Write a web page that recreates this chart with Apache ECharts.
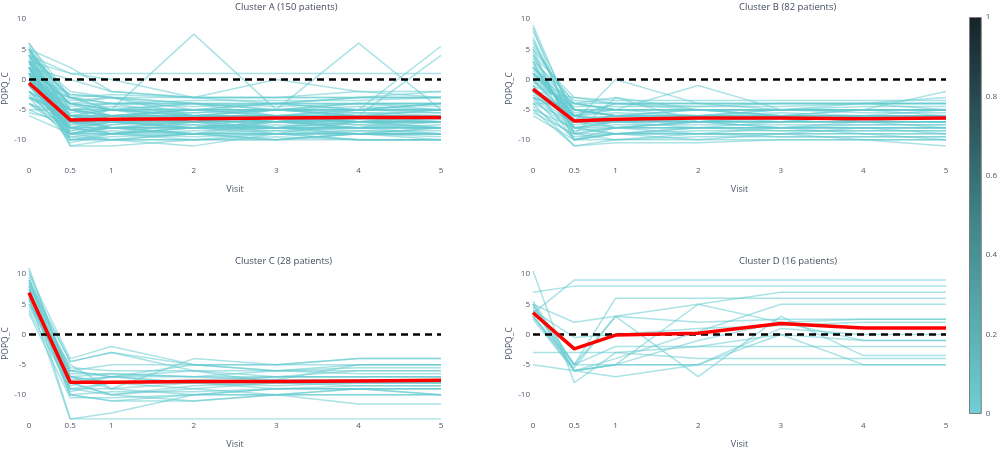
<!DOCTYPE html>
<html>
<head>
<meta charset="utf-8">
<script src="https://cdn.jsdelivr.net/npm/echarts@6/dist/echarts.min.js"></script>
<style>
html,body{margin:0;padding:0;background:#fff;}
#chart{width:1000px;height:451px;}
</style>
</head>
<body>
<div id="chart"></div>
<script>
const visits = [0, 0.5, 1, 2, 3, 4, 5];
const xTicks = [0, 0.5, 1, 2, 3, 4, 5];
const yTicks = [-10, -5, 0, 5, 10];
const titles = ["Cluster A (150 patients)", "Cluster B (82 patients)", "Cluster C (28 patients)", "Cluster D (16 patients)"];
const cbTicks = [0, 0.2, 0.4, 0.6, 0.8, 1];

const meanA = [-0.6, -6.7, -6.6, -6.5, -6.4, -6.3, -6.3];
const meanB = [-1.6, -6.9, -6.6, -6.4, -6.4, -6.5, -6.4];
const meanC = [6.9, -7.9, -7.9, -7.8, -7.8, -7.7, -7.6];
const meanD = [3.6, -2.4, -0.1, 0.2, 1.8, 1.05, 1.05];

const patientsA = [
[3,1,1,1,1,1,1],[2,-4,-5,7.5,-5,-6,-6],[0,-5,-6,-5,-5,6,-5],[1,-6,-7,-6,-7,-5,5.5],
[-1,-7,-6,-7,-6,-6,4],[2,0,-2,-3,0,-2,-3],[4,1,0,-3,-4,-3,-2],[5,2,-2,-3,-3,-2,-2],
[6,-3,-2.5,-3,-3,-3,-3],[3,-2.5,-3,-4,-4,-4,-4],[2,-4,-4,-4,-4.5,-4,-4.5],[1,-5,-4.5,-5,-5,-5,-5],
[0,-3,-5,-5,-4,-5,-5],[-1,-5,-5,-5.5,-5,-5.5,-5.5],[-2,-6,-6,-6,-6,-6,-6],[-3,-6,-6.5,-6,-6.5,-6,-6],
[-4,-7,-7,-6.5,-7,-7,-7],[-5,-8,-7,-7,-7,-7.5,-7],[-6,-9,-8,-8,-8,-8,-8],[4,-8,-8,-7.5,-8,-8.5,-8.5],
[5,-9,-9,-9,-9,-9,-9],[3,-10,-9.5,-9,-9,-9,-9],[2,-11,-11,-10,-9.5,-10,-10],[1,-11,-10,-11,-9,-10,-10],
[0,-10,-10,-10,-10,-9,-9],[-1,-9,-8.5,-9,-8.5,-8,-8],[-2,-8,-9,-8.5,-8,-8,-8],[-3,-7,-8,-8,-7.5,-8,-7.5],
[-4,-6,-7,-7,-7,-6.5,-7],[-5,-5,-6,-6,-6,-6,-6],[3,-4,-5,-5,-5,-4.5,-5],[4,-3,-4,-4.5,-4,-4,-4],
[5,-5,-6,-5.5,-5,-5,-5.5],[2,-6,-5,-6,-6.5,-7,-6.5],[1,-7,-7.5,-7,-6,-6,-6],[0,-8,-7,-7.5,-8,-7,-7],
[-1,-8.5,-8,-8,-8.5,-9,-9],[-2,-9.5,-9,-9.5,-9,-8.5,-9],[-3,-10,-10,-9,-8,-9,-9],[-4,-9,-10,-10,-10,-10,-10],
[6,-4.5,-4,-3.5,-3.5,-3.5,-3],[5,-3.5,-3,-4,-5,-4,-4],[4,-6.5,-6,-6,-5,-5,-5],[3,-7.5,-6.5,-7,-7,-6.5,-6.5],
[2,-8,-8,-7,-6,-7,-7],[1,-9,-8,-8,-7,-7.5,-8],[0,-6,-6,-5,-6,-6,-6],[-1,-4,-5,-6,-7,-7,-7],
[-2,-5.5,-5,-4,-4,-3,-3],[-3,-6,-7,-8,-8,-8,-8],[1,-2.5,-3,-3,-3,-3,-3],[2,-7,-7,-7,-7,-7,-8],
[3,-5,-6,-6.5,-6,-5.5,-6],[-5.5,-7,-7,-6,-5,-5,-5],[4,-6,-7,-8,-9,-9,-9],[0,-7,-8,-9,-9,-10,-10],
[-1,-8,-9,-10,-9,-9,-9.5],[2,-9,-9,-8,-8,-8,-8],[5.5,-5,-5,-5,-5,-5,-5],[3.5,-6,-6,-6,-6,-6,-6],
[4,-2,-3,-5,-6,-7,-7],[2,-10,-9,-8,-7,-6,-6],[1,-9.5,-10,-9,-10,-9,-8],[-2,-7.5,-6,-5,-4,-5,-4],
[0,-4,-3,-6,-8,-6,-5],[3,-6.5,-8,-9,-7,-8,-7],[5,-7,-5,-7,-9,-7,-8],[-1,-3,-4,-6,-5,-4,-5],
[2,-8.5,-7,-6,-7,-8,-6],[-3,-5,-7,-8,-6,-7,-6],[1,-10.5,-9,-7,-8,-9,-8],[4.5,-3,-5,-4,-6,-5,-4],
[0.5,-6,-8,-7,-5,-6,-7],[-4,-8,-6,-7,-8,-7,-6],[3,-9,-7.5,-6,-6,-7,-7],[1.5,-7,-9,-8,-7,-8,-9],
[-0.5,-5,-4,-4,-5,-6,-6],[2.5,-4,-6,-7,-6,-5,-4],[-2.5,-9,-8,-9,-10,-9,-10],[5,-6,-5,-6,-7,-6,-5]
];

const patientsB = [
[9,-7,0,-4,-5,-5,-5],[8.5,-9,-3,-7,-8,-8,-8],[8,-6,-5,-1,-5,-5,-5],[6,-5,-6,-6,-6,-6,-6],
[5,-4,-5,-5,-5,-5,-2],[4,-3,-4,-4,-4,-4,-3],[3,-3.5,-4,-4.5,-4.5,-4,-4],[2,-5,-5,-5,-5,-5,-5],
[1,-6,-5.5,-6,-6,-6,-6],[0,-7,-6,-6,-6,-6,-6],[-1,-8,-7,-7,-7,-7,-7],[-2,-9,-9,-8,-8,-8,-8],
[-3,-10,-9,-9,-9,-9,-9],[-4,-11,-10,-10,-10,-10,-10],[-5,-11,-10.5,-10.5,-10,-10,-11],[-6,-10,-9,-9,-9.5,-9.5,-9.5],
[3,-8,-7.5,-7.5,-7.5,-7.5,-7.5],[2,-7,-8,-8,-8,-8,-8],[1,-6,-7,-7,-7,-7,-7],[0,-5,-6,-6.5,-6.5,-6.5,-6.5],
[-1,-4,-5,-5,-5,-5,-5],[-2,-3,-3.5,-3.5,-3.5,-3.5,-3.5],[-3,-6,-4,-4,-4,-4,-4],[-4,-7,-6,-5,-5,-5.5,-5.5],
[-5,-8,-8,-7,-7,-7,-7],[4,-9,-8,-8,-8.5,-8.5,-8.5],[5,-10,-9,-9,-9,-9,-9],[2.5,-7,-7,-6,-6,-6,-6],
[1.5,-6.5,-6,-6,-5.5,-6,-6],[0.5,-5.5,-5,-5,-5,-4.5,-4.5],[-0.5,-4.5,-4.5,-4.5,-4,-4,-4],[-1.5,-6,-6.5,-7,-7,-7,-7],
[-2.5,-7.5,-7,-7,-6.5,-6.5,-6.5],[-3.5,-8.5,-8,-8,-8,-7.5,-7.5],[-4.5,-9.5,-9,-8.5,-8.5,-8.5,-8.5],[3.5,-5,-6,-6,-6,-6,-6],
[1,-4,-3,-5,-6,-6,-6],[0,-8,-9,-8,-8,-8,-8],[-2,-7,-7,-8,-7,-7,-7],[-3,-5,-5,-5,-5,-5,-5],
[2,-6,-7,-7,-7,-6,-6],[-1,-10,-10,-9.5,-9.5,-9.5,-9.5],[6.5,-7,-7,-6.5,-6.5,-6.5,-6.5],[-4,-4,-4,-4,-4,-4,-4],
[1,-5,-6,-6,-5,-5,-5],[7,-8,-7,-6,-7,-6,-5],[4.5,-9,-10,-9,-8,-9,-10],[-2,-6,-8,-7,-6,-7,-6],
[2,-4,-5,-6,-5,-4,-5],[0,-7,-6,-5,-6,-7,-8],[-5.5,-9,-8,-9,-9,-8,-9],[3,-10,-8,-7,-8,-7,-7],
[1,-6,-4,-5,-6,-5,-6],[-3,-8,-9,-10,-9,-10,-10],[5.5,-5,-6,-7,-6,-5,-5]
];

const patientsC = [
[11,-8,-7,-8,-8,-8,-8],[10,-4,-2,-5,-6,-5,-5],[9,-4.5,-3,-5,-5,-4,-4],[8,-14,-13,-10,-10,-9,-10],
[7,-10,-11,-11,-10,-10,-10],[8.5,-6,-7,-5,-6,-5.5,-5.5],[6,-14,-14,-14,-14,-14,-14],[9.5,-7,-8,-9,-10,-11.5,-11.5],
[5,-5,-9,-4,-5,-4,-4],[7.5,-8,-10,-9,-8,-8,-8],[4,-9,-9,-8,-7,-7,-7],[3.5,-10.5,-10.5,-10,-10,-10,-10],
[6.5,-6.5,-6.5,-7,-6,-6,-6],[8,-7.5,-7,-7,-7.5,-7.5,-7.5],[9,-9.5,-8,-8,-9,-9,-9],[5.5,-6,-5,-5,-5,-5,-5],
[7,-10,-11,-10,-9,-9,-10],[10.5,-7,-9,-10,-9,-9,-9],[6,-8.5,-7,-6,-8,-8.5,-8.5],[8,-5.5,-6,-6,-6,-6.5,-6.5],
[4.5,-7,-8,-7.5,-7,-7,-7],[9,-8,-10,-8.5,-8,-8,-8],[7.5,-9,-10,-11,-10,-9,-9],[6,-10,-9.5,-9.5,-9,-8.5,-8.5],
[8.5,-4.5,-3,-6,-7,-6,-6],[5,-7,-6.5,-7,-7,-7,-7],[7,-6,-7,-8,-7.5,-5,-5],[6.5,-9,-8,-8,-8.5,-8,-8]
];

const patientsD = [
[7,8,8,8,8,8,8],[3.5,9,9,9,9,9,9],[5,2,3,2,2.5,2.5,2.5],[10.5,-8,-3,-2,0,-1,-1],
[5,-5,6,6,6,6,6],[4.5,-6,-5,5,7,7,7],[3,-5.5,3,-7,3,-3.5,-3.5],[-3,-3,-3,-4,-4,-4,-4],
[-5,-6,-5,-5,-5,-5,-5],[4,-0.5,0,1,1.5,2,2],[3,-5,-2,-2,-2,-2,-2],[5,-6,-7,-5,1,0,0],
[4,-5,-5,-1,2,-1,-1],[2.5,-6,-4,0.5,5,5,5],[5.5,-5,3,5,2,2.5,2.5],[3,-6,-5,-5,0,-5,-5]
];

const panels = [
  {patients: patientsA, mean: meanA},
  {patients: patientsB, mean: meanB},
  {patients: patientsC, mean: meanC},
  {patients: patientsD, mean: meanD}
];

const textColor = '#4c5668';
const font = "'Open Sans', 'DejaVu Sans', sans-serif";
const gridPos = [
  {left: 29, top: 13, width: 412, height: 151},
  {left: 533, top: 13, width: 413, height: 151},
  {left: 29, top: 268, width: 412, height: 151},
  {left: 533, top: 268, width: 413, height: 151}
];

const grids = gridPos.map(g => Object.assign({}, g));
grids.push({left: 969, top: 17, width: 16, height: 397});

const xAxes = gridPos.map((g, i) => ({
  type: 'value', gridIndex: i, min: 0, max: 5,
  axisLine: {show: false}, axisTick: {show: false}, splitLine: {show: false},
  axisLabel: {customValues: xTicks, fontSize: 8, color: textColor, margin: 3, fontFamily: font},
  name: 'Visit', nameLocation: 'middle', nameGap: 21,
  nameTextStyle: {fontSize: 9, color: textColor, fontFamily: font}
}));
xAxes.push({type: 'category', gridIndex: 4, data: ['cb'], show: false});

const yAxes = gridPos.map((g, i) => ({
  type: 'value', gridIndex: i, min: -14, max: 11,
  axisLine: {show: false}, axisTick: {show: false}, splitLine: {show: false},
  axisLabel: {customValues: yTicks, fontSize: 8, color: textColor, margin: 3, fontFamily: font},
  name: 'POPQ_C', nameLocation: 'middle', nameGap: 16,
  nameTextStyle: {fontSize: 8.5, color: textColor, fontFamily: font}
}));
yAxes.push({
  type: 'value', gridIndex: 4, min: 0, max: 1, interval: 0.2, position: 'right',
  axisLine: {show: false}, axisTick: {show: false}, splitLine: {show: false},
  axisLabel: {fontSize: 8, color: textColor, margin: 4, fontFamily: font,
    formatter: v => String(Math.round(v * 10) / 10)}
});

const series = [];
panels.forEach((p, i) => {
  p.patients.forEach(row => {
    series.push({
      type: 'line', xAxisIndex: i, yAxisIndex: i, symbol: 'none', silent: true,
      data: visits.map((v, j) => [v, row[j]]),
      lineStyle: {color: 'rgba(100,202,208,0.55)', width: 1.5}, z: 2
    });
  });
  series.push({
    type: 'line', xAxisIndex: i, yAxisIndex: i, symbol: 'none', silent: true,
    data: [[0, 0], [5, 0]],
    lineStyle: {color: '#000', width: 2.5, type: [7, 5]}, z: 3
  });
  series.push({
    type: 'line', xAxisIndex: i, yAxisIndex: i, symbol: 'none', silent: true,
    data: visits.map((v, j) => [v, p.mean[j]]),
    lineStyle: {color: '#ff0000', width: 3.5}, z: 4
  });
});
series.push({
  type: 'bar', xAxisIndex: 4, yAxisIndex: 4, barWidth: '100%', silent: true,
  data: [cbTicks[cbTicks.length - 1]],
  itemStyle: {
    color: new echarts.graphic.LinearGradient(0, 0, 0, 1, [
      {offset: 0, color: '#16232a'},
      {offset: 0.5, color: '#3f8387'},
      {offset: 1, color: '#6fd0d5'}
    ]),
    borderColor: '#7d7d7d', borderWidth: 1
  }
});

const titlePos = [[235, 2], [739, 2], [235, 256], [739, 256]];
const graphics = titles.map((t, i) => ({
  type: 'text', left: titlePos[i][0], top: titlePos[i][1],
  style: {text: t, fontSize: 9.5, fill: '#444d5e', fontFamily: font, textAlign: 'center'}
}));

const chart = echarts.init(document.getElementById('chart'), null, {renderer: 'canvas'});
chart.setOption({
  animation: false,
  backgroundColor: '#fff',
  grid: grids,
  xAxis: xAxes,
  yAxis: yAxes,
  series: series,
  graphic: graphics
});
</script>
</body>
</html>
